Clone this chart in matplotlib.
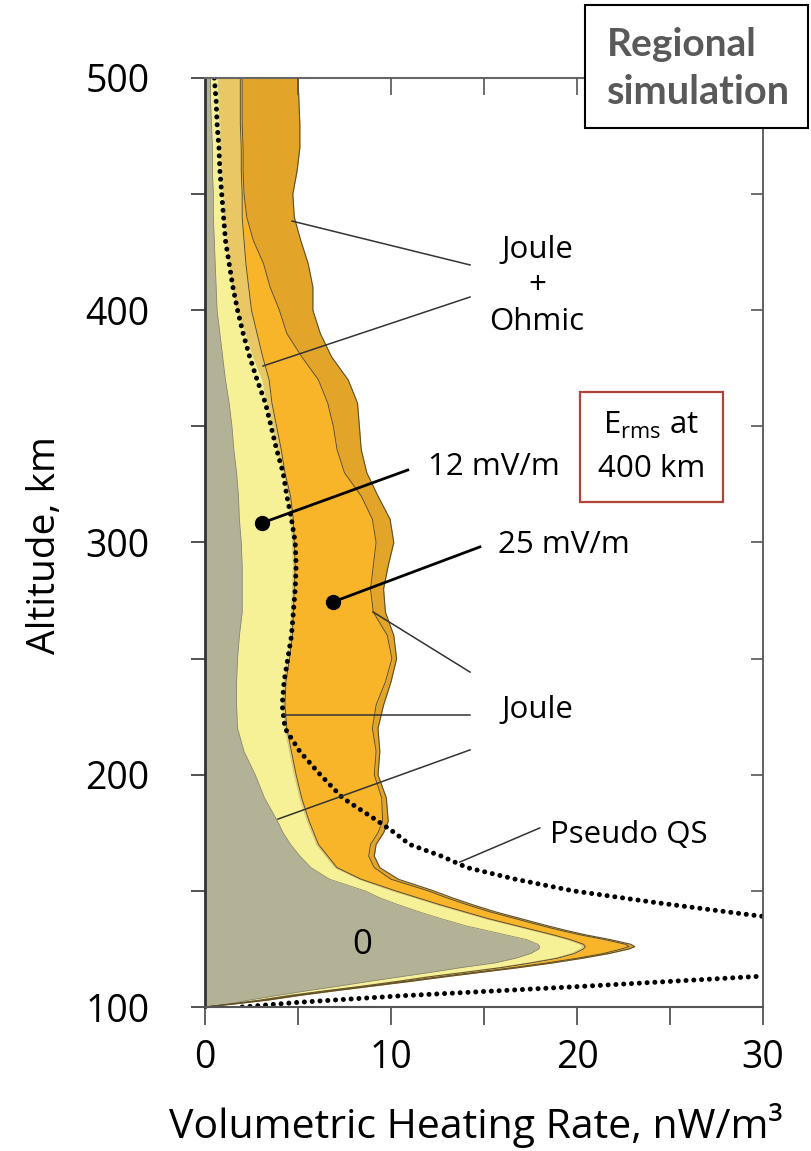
import matplotlib
matplotlib.use("Agg")
import matplotlib.pyplot as plt
from matplotlib.patches import Rectangle

plt.rcParams['font.family'] = ['Open Sans', 'DejaVu Sans']
plt.rcParams['mathtext.fontset'] = 'custom'
plt.rcParams['mathtext.rm'] = 'Open Sans'
plt.rcParams['mathtext.it'] = 'Open Sans:italic'

# altitude grid (km) shared by all heating-rate profiles
altitude = [100, 101.5, 103, 105, 107, 109, 111, 113, 115, 117,
            119, 121, 123, 125, 126, 127, 129, 131, 133, 135,
            138, 141, 144, 147, 150, 155, 160, 165, 170, 175,
            180, 190, 200, 210, 220, 230, 240, 250, 260, 270,
            280, 290, 300, 310, 320, 330, 340, 350, 360, 370,
            380, 390, 400, 410, 420, 430, 440, 450, 460, 470,
            480, 490, 500]

# E = 0 (Joule)
heat_0 = [0, 1.4, 2.4, 3.9, 5.5, 7.2, 8.8, 10.5, 12.2, 13.8,
          15.6, 16.7, 17.5, 17.95, 18.0, 17.9, 17.3, 16.2, 15.1, 14.0,
          12.7, 11.5, 10.4, 9.4, 8.6, 6.7, 5.7, 5.1, 4.6, 4.2,
          3.9, 3.2, 2.7, 2.1, 1.75, 1.7, 1.7, 1.75, 1.85, 2.0,
          2.0, 2.0, 1.95, 1.85, 1.8, 1.7, 1.55, 1.45, 1.3, 1.1,
          0.95, 0.8, 0.65, 0.6, 0.55, 0.5, 0.45, 0.45, 0.4, 0.4,
          0.35, 0.3, 0.3]

# 12 mV/m, Joule
heat_12_j = [0, 1.5, 2.9, 4.5, 6.4, 8.4, 10.2, 11.9, 13.9, 15.8,
             17.4, 18.8, 19.7, 20.2, 20.3, 20.2, 19.5, 18.6, 17.6, 16.6,
             15.1, 13.8, 12.5, 11.3, 10.1, 8.3, 7.0, 6.5, 6.0, 5.75,
             5.5, 5.1, 4.8, 4.55, 4.3, 4.2, 4.25, 4.45, 4.6, 4.65,
             4.7, 4.75, 4.7, 4.6, 4.5, 4.25, 3.9, 3.65, 3.35, 3.1,
             2.6, 2.2, 1.75, 1.5, 1.35, 1.2, 1.05, 1.0, 0.9, 0.85,
             0.8, 0.75, 0.7]

# 12 mV/m, Joule + Ohmic
heat_12_jo = [0, 1.55, 3.0, 4.6, 6.5, 8.5, 10.35, 12.05, 14.05, 15.95,
              17.55, 18.95, 19.85, 20.35, 20.45, 20.35, 19.65, 18.75, 17.75, 16.75,
              15.25, 13.95, 12.65, 11.45, 10.25, 8.4, 7.1, 6.6, 6.1, 5.85,
              5.6, 5.2, 4.9, 4.65, 4.4, 4.3, 4.35, 4.55, 4.7, 4.75,
              4.8, 4.85, 4.8, 4.75, 4.6, 4.3, 4.1, 3.85, 3.6, 3.45,
              3.1, 2.8, 2.5, 2.35, 2.2, 2.1, 2.0, 2.0, 1.95, 1.95,
              1.9, 1.9, 1.9]

# 25 mV/m, Joule
heat_25_j = [0, 1.7, 3.2, 4.9, 6.8, 8.8, 10.7, 12.6, 14.6, 16.6,
             18.4, 20.0, 21.4, 22.4, 22.8, 22.6, 21.5, 20.2, 19.1, 18.1,
             16.7, 15.3, 14.1, 13.0, 12.0, 10.0, 9.1, 8.8, 8.9, 9.3,
             9.55, 9.5, 9.1, 9.2, 9.0, 9.2, 9.7, 10.05, 9.8, 9.05,
             8.9, 9.05, 9.2, 9.0, 8.4, 7.5, 7.1, 6.9, 6.6, 6.1,
             5.2, 4.4, 4.0, 3.5, 3.15, 2.6, 2.25, 2.1, 2.05, 2.05,
             2.0, 2.0, 2.0]

# 25 mV/m, Joule + Ohmic
heat_25_jo = [0, 1.8, 3.4, 5.1, 7.0, 9.0, 11.0, 12.9, 14.9, 16.9,
              18.7, 20.3, 21.7, 22.8, 23.1, 22.9, 21.8, 20.5, 19.4, 18.4,
              17.0, 15.6, 14.4, 13.3, 12.3, 10.4, 9.4, 9.1, 9.2, 9.6,
              9.85, 9.75, 9.3, 9.4, 9.3, 9.6, 10.0, 10.3, 10.15, 9.7,
              9.6, 9.85, 10.15, 9.95, 9.3, 8.7, 8.4, 8.3, 8.2, 7.7,
              6.8, 6.2, 5.8, 5.8, 5.55, 5.15, 4.8, 4.72, 4.95, 5.1,
              5.1, 5.05, 5.0]

# pseudo quasi-static curve (upper and lower branch)
qs_alt_upper = [500, 490, 480, 470, 460, 450, 440, 430, 420, 410,
                400, 390, 380, 370, 360, 350, 340, 330, 320, 310,
                300, 290, 280, 270, 260, 250, 240, 230, 220, 210,
                200, 190, 180, 175, 170, 165, 160, 155, 150, 145,
                140, 139]
qs_x_upper = [0.5, 0.6, 0.65, 0.75, 0.8, 0.9, 1.0, 1.1, 1.3, 1.5,
              1.75, 2.05, 2.4, 2.8, 3.25, 3.55, 3.85, 4.2, 4.4, 4.65,
              4.85, 4.9, 4.85, 4.75, 4.65, 4.45, 4.25, 4.15, 4.3, 5.1,
              6.2, 7.4, 9.3, 10.2, 11.0, 12.7, 14.1, 16.7, 19.8, 24.2,
              29.0, 30.0]
qs_alt_lower = [100, 102, 104.8, 107, 109.2, 113.3]
qs_x_lower = [2.0, 5.0, 10.5, 15.8, 21.0, 30.0]

c_zero = '#b3b296'
c_12j = '#f6f096'
c_12jo = '#e9c764'
c_25j = '#f9b52a'
c_25jo = '#e2a52a'
edge = '#5e4f2c'

fig = plt.figure(figsize=(8.11, 11.51), dpi=100)
ax = fig.add_axes([205 / 811, 1 - 1007 / 1151, 558 / 811, 929 / 1151])

# stacked envelopes
ax.fill_betweenx(altitude, 0, heat_0, color=c_zero, lw=0, zorder=1)
ax.fill_betweenx(altitude, heat_0, heat_12_j, color=c_12j, lw=0, zorder=1)
ax.fill_betweenx(altitude, heat_12_j, heat_12_jo, color=c_12jo, lw=0, zorder=1)
ax.fill_betweenx(altitude, heat_12_jo, heat_25_j, color=c_25j, lw=0, zorder=1)
ax.fill_betweenx(altitude, heat_25_j, heat_25_jo, color=c_25jo, lw=0, zorder=1)

ax.plot(heat_0, altitude, color='#8d8b6c', lw=0.6, zorder=2)
ax.plot(heat_12_j, altitude, color='#c9bd6a', lw=0.5, zorder=2)
ax.plot(heat_12_jo, altitude, color=edge, lw=0.7, zorder=2)
ax.plot(heat_25_j, altitude, color=edge, lw=0.7, zorder=2)
ax.plot(heat_25_jo, altitude, color=edge, lw=0.8, zorder=2)

# pseudo QS dotted curve
dot_style = dict(color='black', lw=3.6, linestyle=(0, (0.01, 1.55)),
                 dash_capstyle='round', zorder=4)
ax.plot(qs_x_upper, qs_alt_upper, **dot_style)
ax.plot(qs_x_lower, qs_alt_lower, **dot_style)

ax.set_xlim(0, 30)
ax.set_ylim(100, 500)

# leader lines
lead = dict(color='#333333', lw=1.1, zorder=5)
ax.plot([4.68, 14.25], [438.4, 419.5], **lead)
ax.plot([3.12, 14.25], [376.0, 405.7], **lead)
ax.plot([9.03, 14.25], [270.1, 244.2], **lead)
ax.plot([4.25, 14.25], [225.7, 225.7], **lead)
ax.plot([3.92, 14.25], [180.9, 210.7], **lead)
ax.plot([13.7, 18.0], [162.4, 177.1], **lead)

ax.plot([3.06, 10.9], [308.4, 331.2], color='black', lw=2.0, zorder=6)
ax.plot([6.88, 14.78], [274.4, 298.1], color='black', lw=2.0, zorder=6)
ax.plot([3.06, 6.88], [308.4, 274.4], 'o', color='black', ms=10, zorder=7)

fs = 22.5
ax.text(17.85, 410.5, 'Joule\n+\nOhmic', ha='center', va='center',
        fontsize=fs, linespacing=1.27, zorder=6)
ax.text(12.0, 332.5, '12 mV/m', ha='left', va='center', fontsize=fs, zorder=6)
ax.text(15.75, 298.9, '25 mV/m', ha='left', va='center', fontsize=fs, zorder=6)
ax.text(17.85, 227.9, 'Joule', ha='center', va='center', fontsize=fs, zorder=6)
ax.text(18.55, 174.1, 'Pseudo QS', ha='left', va='center', fontsize=fs, zorder=6)
ax.text(8.44, 126.7, '0', ha='center', va='center', fontsize=25, zorder=6)

# E_rms box
ax.add_patch(Rectangle((20.16, 317.4), 7.69, 47.4, fill=False,
                       edgecolor='#b0443a', lw=1.6, zorder=6))
ax.text(24.0, 350.5, r'E$_{\mathrm{rms}}$ at', ha='center', va='center',
        fontsize=fs, zorder=7)
ax.text(24.0, 331.5, '400 km', ha='center', va='center', fontsize=fs, zorder=7)

# spines and ticks
ax.spines['left'].set_linewidth(2.0)
ax.spines['left'].set_color('#333333')
ax.spines['bottom'].set_linewidth(1.5)
ax.spines['bottom'].set_color('#555555')
ax.spines['right'].set_linewidth(1.3)
ax.spines['right'].set_color('#555555')
ax.spines['top'].set_linewidth(1.5)
ax.spines['top'].set_color('#666666')
for s in ax.spines.values():
    s.set_zorder(8)

ax.set_xticks([0, 10, 20, 30])
ax.set_xticks([5, 15, 25], minor=True)
ax.set_yticks([100, 200, 300, 400, 500])
ax.set_yticks([150, 250, 350, 450], minor=True)
ax.tick_params(axis='x', which='both', direction='out', length=13, width=1.3,
               color='#555555', pad=10, labelsize=27, top=False)
ax.tick_params(axis='y', which='both', direction='out', length=10, width=1.3,
               color='#444444', pad=30, labelsize=27, right=False)

ax_r = ax.twinx()
ax_r.set_ylim(100, 500)
ax_r.set_yticks([150, 200, 250, 300, 350, 400, 450])
ax_r.tick_params(axis='y', direction='in', length=9, width=1.2,
                 color='#555555', labelright=False)
ax_t = ax.twiny()
ax_t.set_xlim(0, 30)
ax_t.set_xticks([5, 10, 15, 20, 25])
ax_t.tick_params(axis='x', direction='in', length=12, width=1.2,
                 color='#555555', labeltop=False)
for a in (ax_r, ax_t):
    for s in a.spines.values():
        s.set_visible(False)

fig.text(45 / 811, 1 - 545 / 1151, 'Altitude, km', rotation=90,
         ha='center', va='center', fontsize=28)
fig.text(476 / 811, 1 - 1125 / 1151, 'Volumetric Heating Rate, nW/m³',
         ha='center', va='center', fontsize=29.5)

# "Regional simulation" box
box = Rectangle((585 / 811, 1 - 128 / 1151), 223 / 811, 123 / 1151,
                transform=fig.transFigure, facecolor='white',
                edgecolor='black', lw=1.5, zorder=20)
fig.add_artist(box)
fig.text(607 / 811, 1 - 45 / 1151, 'Regional', ha='left', va='center',
         fontsize=28, fontweight='bold', family=['Lato', 'DejaVu Sans'],
         color='#595959', zorder=21)
fig.text(607 / 811, 1 - 93 / 1151, 'simulation', ha='left', va='center',
         fontsize=28.5, fontweight='bold', family=['Lato', 'DejaVu Sans'],
         color='#595959', zorder=21)

fig.savefig('out.png', dpi=100)
